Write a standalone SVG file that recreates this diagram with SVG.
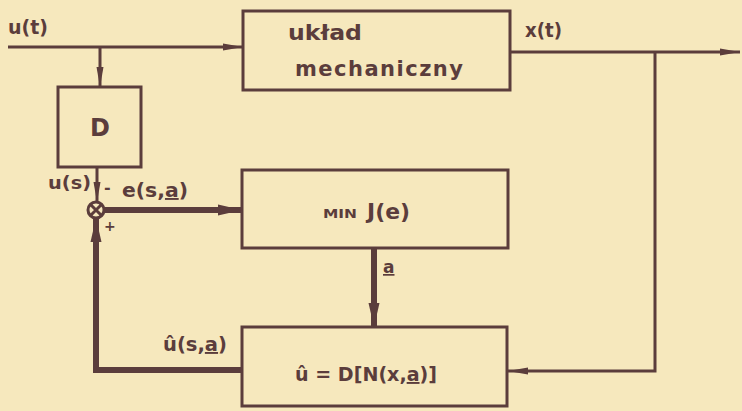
<svg xmlns="http://www.w3.org/2000/svg" width="742" height="411" viewBox="0 0 742 411">
  <defs>
    <style>
      .box { fill: none; stroke: #5b3d3c; stroke-width: 3; }
      .thin { fill: none; stroke: #5b3d3c; stroke-width: 3; }
      .thick { fill: none; stroke: #5b3d3c; stroke-width: 6; }
      .lbl { font-family: "DejaVu Sans", "Liberation Sans", sans-serif; fill: #5b3d3c; font-weight: bold; }
      .u { text-decoration: underline; }
    </style>
    <marker id="ah" viewBox="0 0 20 10" refX="20" refY="5" markerWidth="20" markerHeight="10" markerUnits="userSpaceOnUse" orient="auto">
      <path d="M0,1.5 L20,5 L0,8.5 Z" fill="#5b3d3c"/>
    </marker>
    <marker id="ahb" viewBox="0 0 24 12" refX="24" refY="6" markerWidth="24" markerHeight="12" markerUnits="userSpaceOnUse" orient="auto">
      <path d="M0,0.5 L24,6 L0,11.5 Z" fill="#5b3d3c"/>
    </marker>
  </defs>

  <rect width="742" height="411" fill="#f6e8bd"/>

  <!-- blocks -->
  <g id="plant">
    <rect class="box" x="243" y="11" width="267" height="79"/>
    <text class="lbl" x="288" y="40" font-size="21" textLength="74" lengthAdjust="spacingAndGlyphs">układ</text>
    <text class="lbl" x="295" y="76" font-size="21" textLength="168" lengthAdjust="spacing">mechaniczny</text>
  </g>

  <g id="dblock">
    <rect class="box" x="58" y="87" width="83" height="80"/>
    <text class="lbl" x="100" y="136" font-size="24" text-anchor="middle">D</text>
  </g>

  <g id="minj">
    <rect class="box" x="242" y="170" width="266" height="78"/>
    <text class="lbl" x="323" y="218" font-size="13" textLength="34" lengthAdjust="spacingAndGlyphs">MIN</text>
    <text class="lbl" x="367" y="219" font-size="21" textLength="43" lengthAdjust="spacingAndGlyphs">J(e)</text>
  </g>

  <g id="model">
    <rect class="box" x="242" y="327" width="265" height="79"/>
    <text class="lbl" x="295" y="381" font-size="19" textLength="142" lengthAdjust="spacingAndGlyphs">û = D[N(x,<tspan class="u">a</tspan>)]</text>
  </g>

  <g id="sum">
    <circle cx="96" cy="210" r="8" fill="none" stroke="#5b3d3c" stroke-width="3"/>
    <path d="M90.5,204.5 L101.5,215.5 M101.5,204.5 L90.5,215.5" stroke="#5b3d3c" stroke-width="3"/>
  </g>

  <!-- signal paths -->
  <g id="connectors">
    <line class="thin" x1="8" y1="47" x2="243" y2="47" marker-end="url(#ah)"/>
    <line class="thin" x1="100" y1="47" x2="100" y2="87" marker-end="url(#ah)"/>
    <line class="thin" x1="510" y1="52" x2="740" y2="52" marker-end="url(#ah)"/>
    <polyline class="thin" points="655,52 655,371 508,371" marker-end="url(#ah)"/>
    <line class="thin" x1="97" y1="167" x2="97" y2="202" marker-end="url(#ah)"/>
    <line class="thick" x1="104" y1="210" x2="242" y2="210" marker-end="url(#ahb)"/>
    <line class="thick" x1="374" y1="248" x2="374" y2="327" marker-end="url(#ahb)"/>
    <polyline class="thick" points="242,370 96,370 96,218" marker-end="url(#ahb)"/>
  </g>

  <!-- signal labels -->
  <g id="labels">
    <text class="lbl" x="8" y="34" font-size="19" textLength="40" lengthAdjust="spacingAndGlyphs">u(t)</text>
    <text class="lbl" x="525" y="37" font-size="19" textLength="37" lengthAdjust="spacingAndGlyphs">x(t)</text>
    <text class="lbl" x="48" y="189" font-size="18" textLength="43" lengthAdjust="spacingAndGlyphs">u(s)</text>
    <text class="lbl" x="104" y="193" font-size="16">-</text>
    <text class="lbl" x="122" y="197" font-size="19" textLength="66" lengthAdjust="spacingAndGlyphs">e(s,<tspan class="u">a</tspan>)</text>
    <text class="lbl" x="104" y="231" font-size="14">+</text>
    <text class="lbl u" x="383" y="273" font-size="17">a</text>
    <text class="lbl" x="163" y="351" font-size="19" textLength="64" lengthAdjust="spacingAndGlyphs">û(s,<tspan class="u">a</tspan>)</text>
  </g>
</svg>
